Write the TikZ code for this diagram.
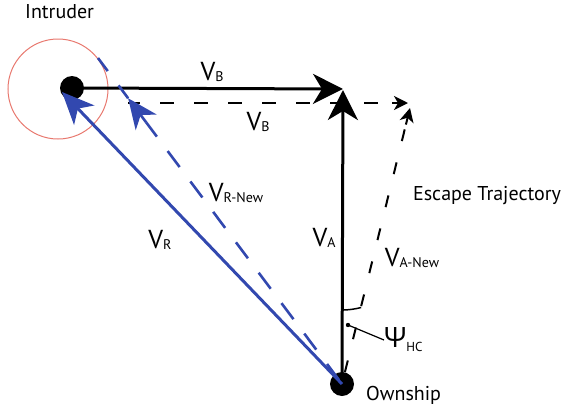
\documentclass[tikz,border=0pt]{standalone}
\usepackage{fontspec}
\setmainfont{PT Sans}
\newfontfamily\gk{Open Sans}
\usetikzlibrary{arrows.meta,calc}
\definecolor{vblue}{RGB}{50,72,175}
\definecolor{ring}{RGB}{232,120,110}
\newcommand{\Vs}[1]{V\raisebox{-0.1ex}{\fontsize{14}{14}\selectfont #1}}
\begin{document}
\begin{tikzpicture}[x=1pt,y=-1pt,
  lbl/.style={inner sep=0pt,font=\fontsize{26}{26}\selectfont},
  txt/.style={inner sep=0pt,font=\fontsize{20}{20}\selectfont},
  dot/.style={circle,fill=black,minimum size=24pt,inner sep=0pt},
  blk/.style={line width=3pt,black},
  bigtip/.style={-{Stealth[length=30pt,width=30pt,inset=9pt]}},
  smalltip/.style={-{Stealth[length=14pt,width=14pt,inset=4pt]}},
  dsh/.style={line width=2pt,dash pattern=on 14pt off 20pt},
  vdsh/.style={line width=2.6pt,vblue,dash pattern=on 20pt off 18pt}]
\useasboundingbox (0,0) rectangle (566,413);
% intruder zone
\node[circle,draw=ring,line width=1pt,minimum size=100pt,inner sep=0pt] (zone) at (58,89) {};
\node[dot] (int) at (72,88) {};
\node[dot] (own) at (342,384) {};
% coordinates
\coordinate (vbtip) at (343,89);
\coordinate (vatip) at (343,90);
\coordinate (db0) at (128,103);
\coordinate (db1) at (408,103);
\coordinate (esctip) at (410,108);
\coordinate (rtip) at (62,92);
\coordinate (rnend) at (98,58);
\coordinate (rnstart) at (339,380);
% V_B solid
\draw[blk,bigtip] (int.center) -- (vbtip);
% V_A solid
\draw[blk,bigtip] (own.center) -- (vatip);
% dashed V_B
\draw[dsh,dash phase=2pt] (db0) -- ($(db1)+(-16,0)$);
\draw[line width=2pt,smalltip] ($(db1)+(-16,0)$) -- (db1);
% escape trajectory
\draw[dsh,dash pattern=on 12pt off 22pt] (own) -- ($(own)!0.94!(esctip)$);
\draw[line width=2pt,smalltip] ($(own)!0.94!(esctip)$) -- (esctip);
% V_R solid blue
\draw[vblue,line width=3pt,-{Stealth[length=32pt,width=28pt,inset=9pt]}] (own.center) -- (rtip);
% V_R-New dashed blue
\path (rnstart) -- (rnend) coordinate[pos=0.875] (rntip);
\draw[vdsh] (rnstart) -- ($(rnstart)!0.8!(rnend)$);
\draw[vblue,line width=2.6pt,-{Stealth[length=30pt,width=26pt,inset=9pt]}] ($(rnstart)!0.8!(rnend)$) -- (rntip);
\draw[vdsh,dash phase=4pt] (rntip) -- (rnend);
% angle psi
\draw[line width=1.5pt] ($(own.center)+(0,-74)$) arc[start angle=-90,end angle=-75,radius=74pt];
\coordinate (psiptr) at (348,325);
\fill (psiptr) circle (2.2pt);
% labels
\node[inner sep=0pt,anchor=base west,font=\fontsize{20}{20}\selectfont] (lint) at (25,18) {Intruder};
\node[lbl] (lvb1) at (212,72) {\Vs{B}};
\node[lbl] (lvb2) at (258,122) {\Vs{B}};
\node[lbl] (lvrn) at (236,193) {\Vs{R-New}};
\node[lbl] (lvr) at (160,240) {\Vs{R}};
\node[lbl] (lva) at (324,238) {\Vs{A}};
\node[lbl] (lvan) at (412,258) {\Vs{A-New}};
\node[txt] (lesc) at (487,196) {Escape Trajectory};
\node[lbl,anchor=west] (lpsi) at (384,340) {{\gk\fontsize{28}{28}\selectfont Ψ}\raisebox{-0.3ex}{\fontsize{13}{13}\selectfont HC}};
\node[txt,anchor=west] (lown) at (366,395) {Ownship};
\draw[line width=1.2pt] (psiptr) -- (lpsi.west);
\end{tikzpicture}
\end{document}
